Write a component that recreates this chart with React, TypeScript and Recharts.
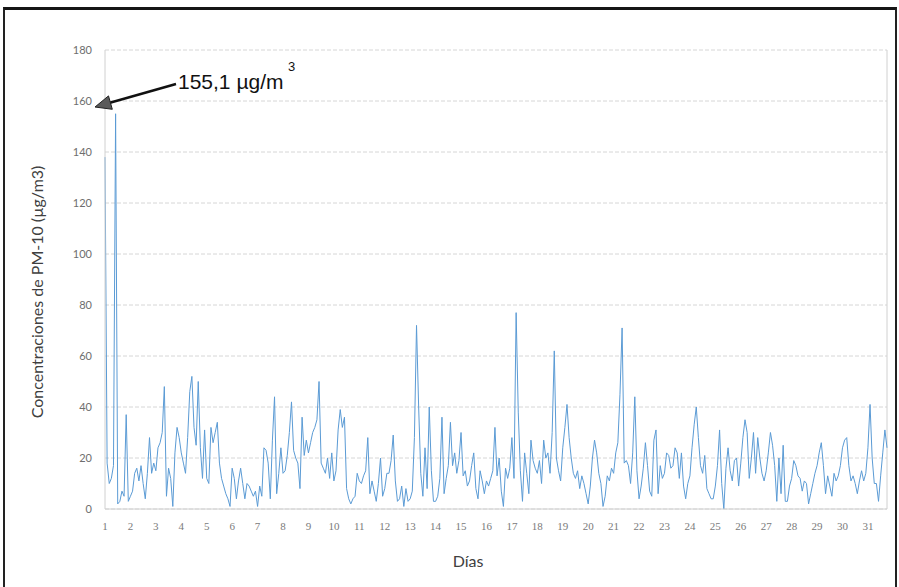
import React from "react";
import { LineChart, Line, XAxis, YAxis, CartesianGrid, ReferenceLine } from "recharts";

// PM-10 concentrations (µg/m3), one reading every 2 hours, days 1-31
const STEP_HOURS = 2;
const week1 = [
  138, 18, 10, 12, 17, 155, 2, 3, 7, 5, 37, 3,
  5, 7, 14, 16, 11, 17, 10, 4, 14, 28, 14, 18,
  15, 24, 26, 30, 48, 5, 16, 12, 1, 22, 32, 28,
  22, 18, 14, 28, 46, 52, 32, 25, 50, 24, 12, 31,
  12, 10, 32, 26, 30, 34, 18, 12, 9, 6, 4, 1,
  16, 12, 4, 11, 16, 10, 4, 10, 9, 7, 5, 7,
  1, 9, 5, 24, 23, 18, 4, 27, 44, 6, 14, 24,
];
const week2 = [
  14, 15, 21, 30, 42, 23, 20, 18, 8, 36, 21, 27,
  22, 26, 30, 32, 35, 50, 18, 16, 14, 20, 12, 22,
  11, 15, 31, 39, 32, 36, 8, 4, 2, 4, 5, 14,
  11, 10, 13, 15, 28, 6, 11, 7, 3, 10, 20, 5,
  8, 14, 14, 19, 29, 11, 3, 4, 9, 1, 8, 3,
  4, 7, 28, 72, 40, 14, 5, 24, 8, 40, 15, 3,
  3, 5, 12, 36, 6, 12, 17, 34, 17, 22, 14, 19,
];
const week3 = [
  30, 13, 15, 9, 11, 17, 22, 8, 4, 15, 11, 6,
  11, 9, 12, 15, 32, 13, 20, 7, 1, 16, 12, 16,
  28, 12, 77, 38, 15, 3, 22, 14, 6, 27, 19, 16,
  14, 19, 10, 27, 20, 22, 14, 30, 62, 20, 15, 11,
  24, 32, 41, 28, 20, 14, 12, 15, 8, 13, 10, 6,
  2, 9, 20, 27, 22, 14, 10, 1, 5, 13, 11, 16,
  14, 22, 26, 45, 71, 18, 19, 17, 10, 22, 44, 15,
];
const week4 = [
  4, 9, 16, 26, 17, 7, 5, 27, 31, 6, 17, 12,
  14, 22, 21, 16, 17, 24, 22, 12, 22, 9, 4, 10,
  13, 24, 33, 40, 28, 17, 14, 21, 8, 6, 4, 4,
  9, 17, 31, 10, 0, 16, 24, 15, 11, 19, 20, 9,
  18, 28, 35, 30, 12, 20, 30, 14, 28, 20, 14, 11,
  15, 22, 30, 25, 17, 3, 20, 6, 25, 3, 3, 9,
  12, 19, 17, 13, 12, 7, 11, 10, 2, 6, 10, 14,
];
const lastDays = [
  17, 22, 26, 17, 6, 13, 9, 5, 14, 11, 13, 17,
  24, 27, 28, 17, 11, 13, 10, 6, 11, 15, 11, 14,
  24, 41, 20, 10, 10, 3, 13, 22, 31, 24,
];

const values = [...week1, ...week2, ...week3, ...week4, ...lastDays];
const data = values.map((v, i) => ({ h: i * STEP_HOURS, v }));
const lastHour = (values.length - 1) * STEP_HOURS;

const dayLabels = Array.from({ length: 31 }, (_, i) => String(i + 1));
const xTicks = dayLabels.map((_, i) => i * 24);
const yTicks = [0, 20, 40, 60, 80, 100, 120, 140, 160, 180];

const yTitle = "Concentraciones de PM-10 (µg/m3)";
const xTitle = "Días";
const noteText = "155,1 µg/m";
const noteSup = "3";

export default function App() {
  return (
    <div
      style={{
        position: "absolute",
        left: 0,
        top: 0,
        width: 899,
        height: 587,
        background: "#ffffff",
        overflow: "hidden",
      }}
    >
      <div
        style={{
          position: "absolute",
          left: 3,
          top: 7,
          width: 890,
          height: 620,
          borderTop: "3px solid #151515",
          borderLeft: "2px solid #222",
          borderRight: "2px solid #222",
        }}
      />
      <div style={{ position: "absolute", left: 0, top: 0 }}>
        <LineChart
          width={899}
          height={587}
          data={data}
          margin={{ top: 50, right: 12, bottom: 48, left: 0 }}
        >
          <CartesianGrid
            horizontal
            vertical={false}
            stroke="#d6d6d6"
            strokeDasharray="4 2"
          />
          <XAxis
            type="number"
            dataKey="h"
            domain={[0, lastHour]}
            ticks={xTicks}
            interval={0}
            tickFormatter={(h: number) => dayLabels[Math.round(h / 24)]}
            height={30}
            tickSize={0}
            tickMargin={13}
            axisLine={{ stroke: "#d0d0d0" }}
            tick={{ fontSize: 11, fill: "#7a7a7a", fontFamily: "Liberation Serif" }}
          />
          <YAxis
            type="number"
            domain={[0, 180]}
            ticks={yTicks}
            interval={0}
            width={105}
            tickSize={0}
            tickMargin={13}
            axisLine={{ stroke: "#d0d0d0" }}
            tick={{ fontSize: 11, fill: "#6e6e6e", fontFamily: "Lato" }}
          />
          <ReferenceLine x={lastHour} stroke="#d0d0d0" />
          <Line
            type="linear"
            dataKey="v"
            stroke="#5B9BD5"
            strokeWidth={1}
            dot={false}
            activeDot={false}
            isAnimationActive={false}
          />
        </LineChart>
      </div>
      <svg
        width={899}
        height={587}
        style={{ position: "absolute", left: 0, top: 0, pointerEvents: "none" }}
      >
        <text
          transform="translate(43, 292) rotate(-90)"
          textAnchor="middle"
          fontFamily="Lato"
          fontSize={16}
          fill="#404040"
        >
          {yTitle}
        </text>
        <text
          x={468}
          y={567}
          textAnchor="middle"
          fontFamily="Lato"
          fontSize={16}
          fill="#404040"
        >
          {xTitle}
        </text>
        <line x1={176} y1={84} x2={109} y2={103} stroke="#111" strokeWidth={2.5} />
        <polygon
          points="95,107 108.5,95.9 112.3,109.3"
          fill="#5a5a5a"
          stroke="#222"
          strokeWidth={1}
        />
        <text x={178} y={89} fontFamily="Liberation Sans" fontSize={21} fill="#111">
          {noteText}
        </text>
        <text x={288} y={71} fontFamily="Liberation Sans" fontSize={13} fill="#111">
          {noteSup}
        </text>
      </svg>
    </div>
  );
}
